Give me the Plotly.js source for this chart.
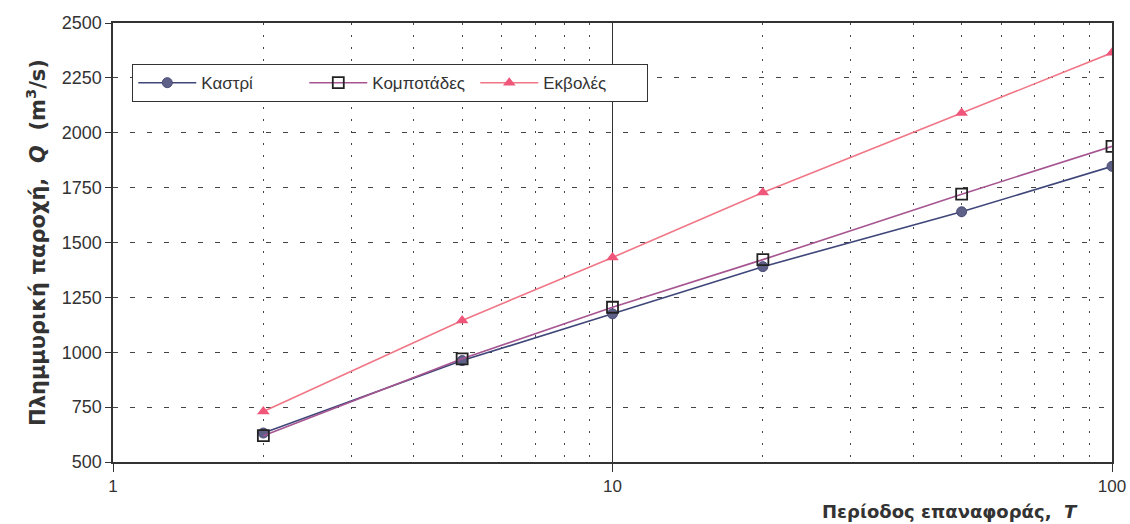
<!DOCTYPE html>
<html>
<head>
<meta charset="utf-8">
<script src="https://cdn.plot.ly/plotly-3.0.1.min.js"></script>
<style>html,body{margin:0;padding:0;background:#fff;}#chart{width:1130px;height:524px;}</style>
</head>
<body>
<div id="chart"></div>
<script>
// Return period T (years)
const periods = [2, 5, 10, 20, 50, 100];
// Flood discharge Q (m3/s)
const kastri = [632, 962, 1175, 1390, 1640, 1847];
const kompotades = [620, 970, 1205, 1422, 1720, 1938];
const ekvoles = [730, 1145, 1432, 1728, 2090, 2364];
const seriesNames = ['Καστρί', 'Κομποτάδες', 'Εκβολές'];
const xMajorTicks = [1, 10, 100];
const xMinorTicks = [2, 3, 4, 5, 6, 7, 8, 9, 20, 30, 40, 50, 60, 70, 80, 90];

const FONT = 'Liberation Sans, Arial, sans-serif';
const TFONT = 'DejaVu Sans, Verdana, sans-serif';

const traces = [
  {x: periods, y: kastri, name: seriesNames[0], type: 'scatter', mode: 'lines+markers',
   line: {color: '#3f4679', width: 1.6},
   marker: {symbol: 'circle', size: 10, color: '#5e6088', line: {color: '#4a4d77', width: 1}}},
  {x: periods, y: kompotades, name: seriesNames[1], type: 'scatter', mode: 'lines+markers',
   line: {color: '#a65591', width: 1.6},
   marker: {symbol: 'square-open', size: 11, color: '#222', line: {color: '#222', width: 1.8}}},
  {x: periods, y: ekvoles, name: seriesNames[2], type: 'scatter', mode: 'lines+markers',
   line: {color: '#f07686', width: 1.6},
   marker: {symbol: 'triangle-up', size: 11, color: '#f0567a', line: {width: 0}}}
];

const layout = {
  width: 1130, height: 524,
  margin: {l: 113, r: 18, t: 23, b: 62},
  paper_bgcolor: '#fff', plot_bgcolor: '#fff',
  font: {family: FONT, size: 16, color: '#333'},
  showlegend: true,
  legend: {
    orientation: 'h', x: 0.019, y: 0.907, xanchor: 'left', yanchor: 'top',
    bgcolor: '#fff', bordercolor: '#333', borderwidth: 1.3,
    font: {size: 17, color: '#333', family: FONT}, itemwidth: 58, tracegroupgap: 0,
    entrywidth: 98, entrywidthmode: 'pixels'
  },
  xaxis: {
    type: 'log', range: [0, 2],
    tickvals: xMajorTicks, ticktext: xMajorTicks.map(String),
    ticks: 'outside', ticklen: 8, tickcolor: '#333',
    showgrid: true, gridcolor: '#333', gridwidth: 1.3,
    showline: true, linecolor: '#333', linewidth: 1.6, mirror: true,
    zeroline: false,
    tickfont: {size: 17, color: '#333', family: FONT},
    minor: {tickvals: xMinorTicks, showgrid: true, gridcolor: '#444', gridwidth: 1, griddash: '2px,10px', ticks: ''}
  },
  yaxis: {
    range: [500, 2500], dtick: 250, tick0: 500,
    ticks: 'outside', ticklen: 6, tickcolor: '#333',
    showgrid: true, gridcolor: '#444', gridwidth: 1, griddash: '5px,12px',
    showline: true, linecolor: '#333', linewidth: 1.6, mirror: true,
    zeroline: false,
    tickfont: {size: 18, color: '#333', family: FONT},
    title: {text: 'Πλημμυρική παροχή,  <i>Q</i>  (m<sup>3</sup>/s)', standoff: 10,
            font: {size: 21, color: '#333', family: TFONT, weight: 'bold'}}
  },
  annotations: [
    {xref: 'paper', yref: 'paper', x: 0.838, y: -0.085, xanchor: 'center', yanchor: 'top', showarrow: false,
     text: '<b>Περίοδος επαναφοράς,  <i>T</i></b>', font: {size: 18, color: '#333', family: TFONT}}
  ]
};

Plotly.newPlot('chart', traces, layout, {displayModeBar: false, staticPlot: true});
</script>
</body>
</html>
